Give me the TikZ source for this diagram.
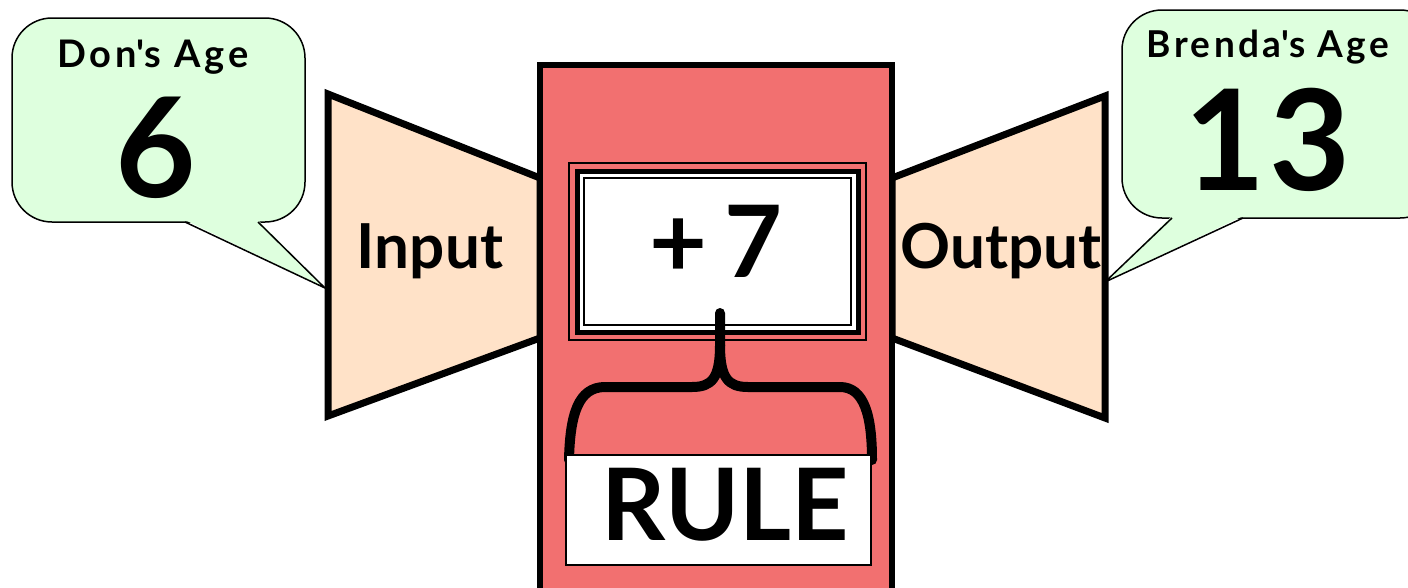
\documentclass[tikz,border=0pt]{standalone}
\usepackage{fontspec}
\setmainfont{Lato}
\definecolor{bubblegreen}{RGB}{222,255,222}
\definecolor{peach}{RGB}{255,226,200}
\definecolor{salmon}{RGB}{242,112,112}
\tikzset{
  bubble/.style={fill=bubblegreen,draw=black,line width=1.5pt},
  funnel/.style={fill=peach,draw=black,line width=7pt,line join=miter},
  txt/.style={inner sep=0pt,anchor=base,font=\bfseries},
  bracestroke/.style={line width=10pt,line cap=round,line join=round},
}
\begin{document}
\begin{tikzpicture}[x=1pt,y=-1pt]
\useasboundingbox (0,0) rectangle (1408,587);
\clip (0,0) rectangle (1408,587);
\fill[white] (0,0) rectangle (1408,587);
% left bubble
\filldraw[bubble,rounded corners=40pt] (12,18) rectangle (305,222);
\fill[bubblegreen] (185,220) -- (325,288) -- (258,220) -- cycle;
\draw[line width=1.5pt,line join=miter] (185,222) -- (325,288) -- (258,222);
% right bubble
\filldraw[bubble,rounded corners=40pt] (1122,10) rectangle (1440,218);
\fill[bubblegreen] (1243,216) -- (1105,282) -- (1172,216) -- cycle;
\draw[line width=1.5pt,line join=miter] (1243,218) -- (1105,282) -- (1172,218);
% funnels
\draw[funnel] (328,94) -- (540,178) -- (540,338) -- (328,416) -- cycle;
\draw[funnel] (1105,96) -- (892,178) -- (892,338) -- (1105,418) -- cycle;
% machine body
\draw[fill=salmon,line width=6pt] (540,65) rectangle (892,620);
% rule frame
\draw[line width=2pt,fill=salmon] (569,163) rectangle (866,340);
\draw[line width=5pt,fill=white] (577,171) rectangle (858,332);
\draw[line width=1.5pt] (584,178) rectangle (851,325);
% brace
\draw[bracestroke] (720,313) -- (720,345) .. controls (720,378) and (712,387) .. (692,387)
  -- (605,387) .. controls (578,387) and (570,415) .. (569,460);
\draw[bracestroke] (720,345) .. controls (720,378) and (728,387) .. (748,387)
  -- (840,387) .. controls (864,387) and (872,415) .. (872,460);
% rule label box
\draw[fill=white,line width=1.5pt] (566,455) rectangle (871,565);
% texts
\node[txt,font=\bfseries\fontsize{38}{40}\selectfont\addfontfeature{LetterSpace=10}] (donlabel) at (153,67) {Don\textquotesingle s Age};
\node[txt,font=\bfseries\fontsize{139}{140}\selectfont] (donage) at (156,197) {6};
\node[txt,font=\bfseries\fontsize{37}{40}\selectfont\addfontfeature{LetterSpace=9}] (brendalabel) at (1268,57) {Brenda\textquotesingle s Age};
\node[txt,font=\bfseries\fontsize{140}{142}\selectfont\addfontfeature{LetterSpace=3}] (brendaage) at (1268,190) {13};
\node[txt,font=\bfseries\fontsize{62}{64}\selectfont] (input) at (430,268) {Input};
\node[txt,font=\bfseries\fontsize{62}{64}\selectfont] (output) at (1001,268) {Output};
\node[txt,font=\bfseries\fontsize{100}{102}\selectfont] (rule) at (716,277) {+\,7};
\node[txt,font=\bfseries\fontsize{100}{102}\selectfont] (rulelabel) at (725,540) {RULE};
\end{tikzpicture}
\end{document}
